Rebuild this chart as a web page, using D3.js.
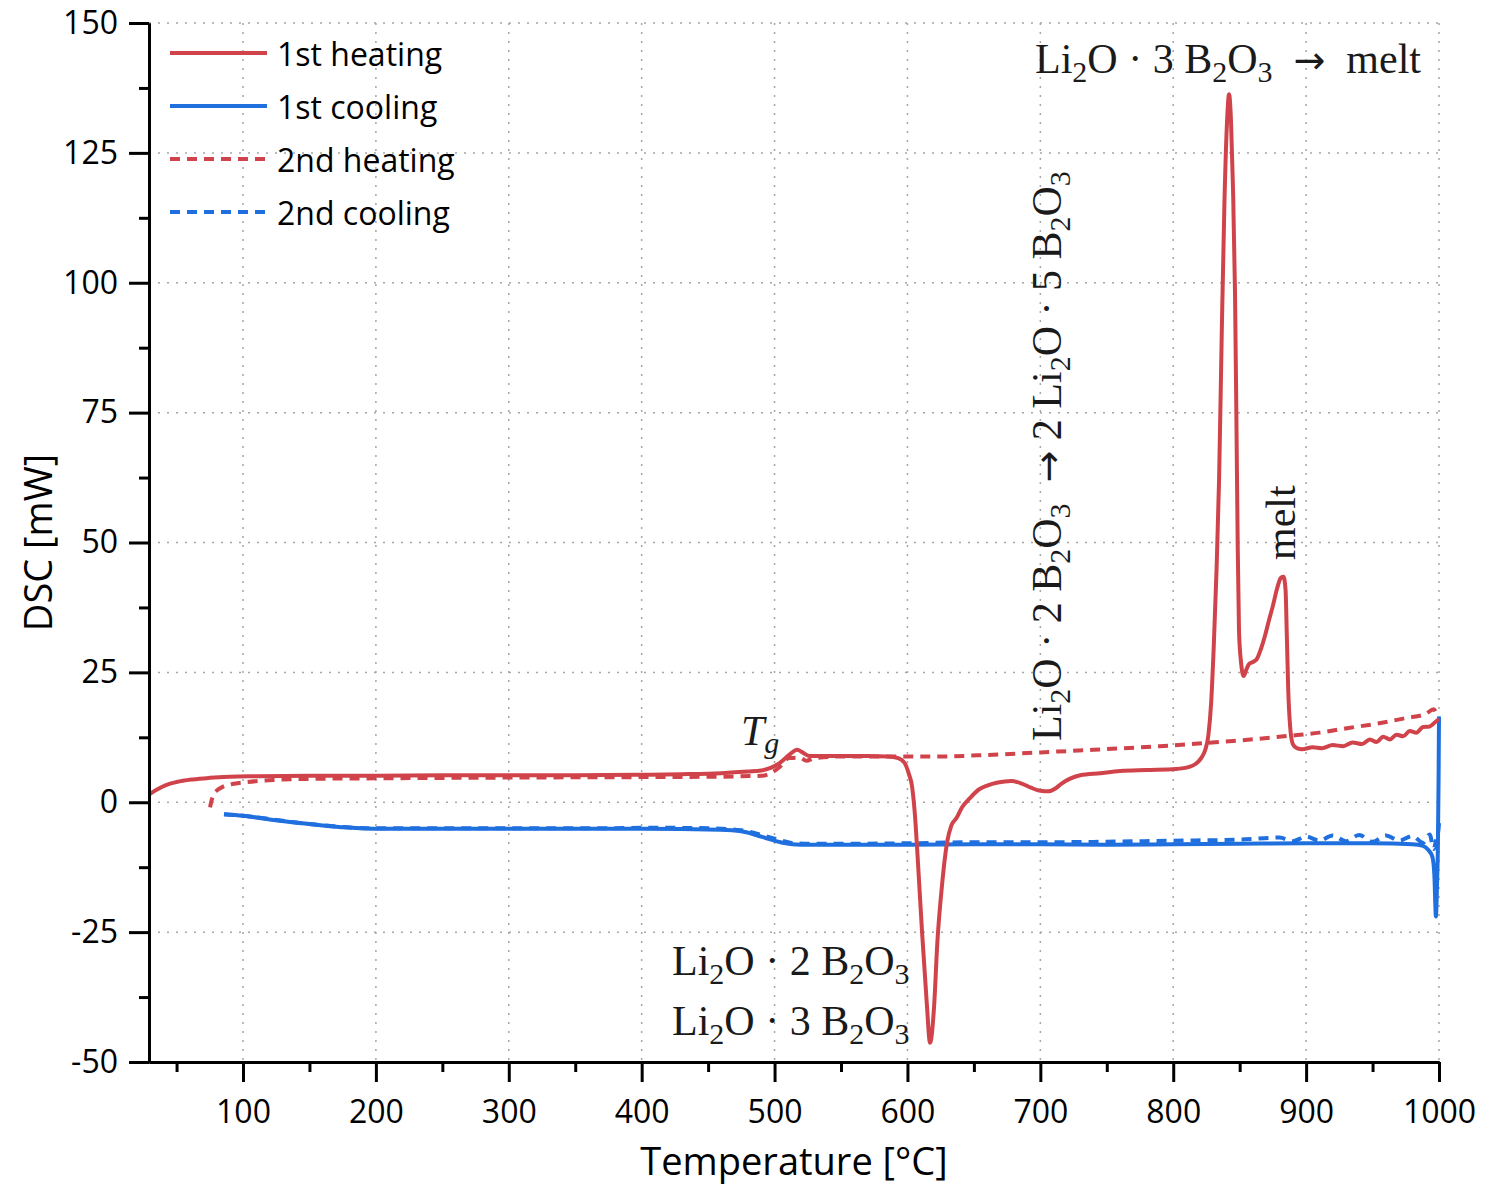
<!DOCTYPE html>
<html>
<head>
<meta charset="utf-8">
<script src="https://cdn.jsdelivr.net/npm/d3@7"></script>
<style>
  body { margin: 0; background: #fff; }
</style>
</head>
<body>
<script>
// series: [temperature °C, DSC mW]
const heating1 = [
  [29.3, 1.5], [35, 2.4], [42, 3.3], [50, 3.9], [62, 4.4], [75, 4.7], [90, 4.9], [110, 5.0],
  [150, 5.1], [200, 5.1], [250, 5.2], [300, 5.2], [350, 5.2], [400, 5.3], [430, 5.4], [460, 5.6],
  [480, 5.9], [490, 6.1], [497, 6.6], [504, 7.6], [511, 9.1], [517, 10.1], [521, 9.6], [526, 8.9],
  [535, 8.9], [550, 8.9], [570, 8.9], [585, 8.8], [593, 8.5], [598, 7.5], [601, 5.5], [603.5, 3],
  [605.5, -2], [608, -12], [611, -25], [614.5, -38.5], [617, -46.3], [620, -39.5], [622.5, -27],
  [626, -16], [630, -7.5], [633, -4.5], [637, -3], [641, -1], [647, 0.8], [654, 2.5], [660, 3.2],
  [668, 3.8], [678, 4.1], [686, 3.6], [693, 2.8], [700, 2.2], [706, 2.1], [711, 2.6], [716, 3.6],
  [722, 4.5], [730, 5.2], [745, 5.6], [760, 6.0], [780, 6.2], [802, 6.4], [812, 6.8], [817, 7.4],
  [821, 8.5], [824, 10], [826.5, 13], [828.5, 19], [830.5, 30], [832.5, 44], [834.5, 62],
  [836.5, 90], [838.5, 115], [840.5, 131], [842, 136.3], [843.5, 131], [845, 118], [846.5, 98],
  [847.5, 75], [848.5, 50], [849.5, 33], [851, 27], [853, 24.3], [855, 25.5], [857, 26.6],
  [860, 27], [863, 27.6], [866, 29.5], [869, 32], [872, 35], [875, 37.8], [878, 41], [881, 43.2],
  [883, 43.4], [884.5, 41], [885.5, 32], [886.5, 22], [888, 14.5], [890, 11.2], [893, 10.4],
  [897, 10.2], [905, 10.6], [912, 10.4], [920, 11.0], [928, 10.8], [935, 11.5], [942, 11.2],
  [948, 12.1], [953, 11.6], [958, 12.6], [963, 12.1], [968, 13.0], [973, 12.7], [978, 13.7],
  [983, 13.4], [988, 14.5], [993, 14.6], [997, 15.4], [1000, 16]
];

const heating2 = [
  [75.2, -1], [76.5, 0.5], [78, 1.5], [81, 2.4], [85, 3], [92, 3.5], [100, 3.8], [123, 4.3],
  [150, 4.5], [200, 4.6], [260, 4.7], [350, 4.8], [450, 4.9], [490, 5.1], [497, 5.6], [503, 6.6],
  [511, 8.5], [519, 8.6], [524, 8.0], [530, 8.5], [550, 8.8], [580, 8.8], [620, 8.8], [660, 9.1],
  [700, 9.6], [740, 10.1], [790, 10.8], [845, 11.8], [888, 12.8], [910, 13.4], [932, 14.3],
  [955, 15.2], [975, 16.2], [990, 17.0], [996, 17.9], [998, 17.2], [1000, 16.5]
];

const cooling1 = [
  [85.7, -2.3], [100, -2.6], [123, -3.4], [150, -4.2], [174, -4.8], [197, -5.1], [250, -5.1],
  [300, -5.1], [400, -5.1], [459, -5.3], [475, -5.6], [486, -6.3], [496, -7.1], [506, -7.8],
  [520, -8.2], [560, -8.2], [600, -8.2], [650, -8.1], [700, -8.1], [750, -8.2], [800, -8.1],
  [850, -8.0], [900, -7.9], [950, -7.9], [980, -8.1], [988, -8.4], [992, -9.2], [995, -10.5],
  [996.5, -14], [997.7, -22], [998.5, -16], [999.2, -8], [999.7, 5], [1000, 16.5]
];

const cooling2 = [
  [85.7, -2.3], [100, -2.6], [150, -4.2], [197, -5.0], [300, -5.0], [380, -5.0], [400, -4.9],
  [450, -5.0], [475, -5.4], [486, -6.0], [500, -7.0], [515, -7.9], [530, -8.0], [600, -7.9],
  [650, -7.7], [700, -7.7], [750, -7.6], [800, -7.4], [850, -7.2], [880, -6.8], [890, -7.5],
  [900, -6.6], [910, -7.4], [920, -6.4], [930, -7.5], [940, -6.3], [950, -7.6], [960, -6.4],
  [970, -7.4], [980, -6.5], [988, -7.8], [993, -6.2], [996, -9], [998, -7], [999.5, -5.5],
  [1000, -4]
];

const seriesNames = ["1st heating", "1st cooling", "2nd heating", "2nd cooling"];
const xTicks = [100, 200, 300, 400, 500, 600, 700, 800, 900, 1000];
const xMinorTicks = [50, 150, 250, 350, 450, 550, 650, 750, 850, 950];
const yTicks = [-50, -25, 0, 25, 50, 75, 100, 125, 150];
const yMinorTicks = [-37.5, -12.5, 12.5, 37.5, 62.5, 87.5, 112.5, 137.5];

const drawViz = () => {

  const width = 1509;
  const height = 1185;
  const margin = {top: 23, bottom: 123, left: 149, right: 70};

  const red = '#d1434b';
  const blue = '#1f6fde';
  const sans = '"Open Sans", "Noto Sans", sans-serif';
  const serif = '"Liberation Serif", "DejaVu Serif", serif';

  const xScale = d3
    .scaleLinear()
    .domain([29.26, 1000])
    .range([margin.left, width - margin.right]);

  const yScale = d3
    .scaleLinear()
    .domain([-50, 150])
    .range([height - margin.bottom, margin.top]);

  const svg = d3
    .select('body')
    .append('svg')
    .attr('width', width)
    .attr('height', height);

  // dotted grid
  const grid = svg.append('g').attr('class', 'grid')
    .attr('stroke', '#a6a6a6')
    .attr('stroke-width', 1.5)
    .attr('stroke-dasharray', '2,7');

  grid.selectAll('line.v')
    .data(xTicks)
    .enter()
    .append('line')
    .attr('x1', (d) => xScale(d))
    .attr('x2', (d) => xScale(d))
    .attr('y1', yScale(150))
    .attr('y2', yScale(-50));

  grid.selectAll('line.h')
    .data(yTicks.filter((d) => d > -50))
    .enter()
    .append('line')
    .attr('x1', xScale(29.26))
    .attr('x2', xScale(1000))
    .attr('y1', (d) => yScale(d))
    .attr('y2', (d) => yScale(d));

  // data lines
  const line = d3.line()
    .x((d) => xScale(d[0]))
    .y((d) => yScale(d[1]))
    .curve(d3.curveMonotoneX);

  const series = [
    {data: cooling2, color: blue, dash: '10,7'},
    {data: heating2, color: red, dash: '10,7'},
    {data: cooling1, color: blue, dash: null},
    {data: heating1, color: red, dash: null}
  ];

  svg.append('g')
    .selectAll('path')
    .data(series)
    .enter()
    .append('path')
    .attr('d', (d) => line(d.data))
    .attr('fill', 'none')
    .attr('stroke', (d) => d.color)
    .attr('stroke-width', 4)
    .attr('stroke-linejoin', 'round')
    .attr('stroke-dasharray', (d) => d.dash);

  // axes
  const fmt = (d) => String(d);

  svg.append('g')
    .attr('transform', `translate(0, ${yScale(-50)})`)
    .call(d3.axisBottom(xScale).tickValues(xTicks).tickFormat(fmt)
      .tickSize(20).tickPadding(18).tickSizeOuter(0));

  svg.append('g')
    .attr('transform', `translate(0, ${yScale(-50)})`)
    .call(d3.axisBottom(xScale).tickValues(xMinorTicks).tickSize(10).tickFormat('').tickSizeOuter(0));

  svg.append('g')
    .attr('transform', `translate(${xScale(29.26)}, 0)`)
    .call(d3.axisLeft(yScale).tickValues(yTicks).tickFormat(fmt)
      .tickSize(20).tickPadding(11).tickSizeOuter(0));

  svg.append('g')
    .attr('transform', `translate(${xScale(29.26)}, 0)`)
    .call(d3.axisLeft(yScale).tickValues(yMinorTicks).tickSize(10).tickFormat('').tickSizeOuter(0));

  svg.selectAll('.domain, .tick line')
    .attr('stroke', '#000')
    .attr('stroke-width', 3);

  svg.selectAll('.tick text')
    .attr('font-family', sans)
    .attr('font-size', 32)
    .attr('fill', '#000');

  // axis titles
  svg.append('text')
    .attr('x', (margin.left + width - margin.right) / 2)
    .attr('y', 1175)
    .attr('text-anchor', 'middle')
    .attr('font-family', sans)
    .attr('font-size', 38)
    .text('Temperature [°C]');

  svg.append('text')
    .attr('transform', `translate(52, ${(yScale(150) + yScale(-50)) / 2}) rotate(-90)`)
    .attr('text-anchor', 'middle')
    .attr('font-family', sans)
    .attr('font-size', 38)
    .text('DSC [mW]');

  // legend
  const legend = svg.append('g')
    .selectAll('g')
    .data(seriesNames)
    .enter()
    .append('g')
    .attr('transform', (d, i) => `translate(170, ${53 + i * 53})`);

  legend.append('line')
    .attr('x1', 0)
    .attr('x2', 97)
    .attr('stroke', (d, i) => (i % 2 === 0 ? red : blue))
    .attr('stroke-width', 4)
    .attr('stroke-dasharray', (d, i) => (i < 2 ? null : '10,7'));

  legend.append('text')
    .attr('x', 107)
    .attr('y', 13)
    .attr('font-family', sans)
    .attr('font-size', 32)
    .text((d) => d);

  // annotations; {s} = subscript, {a} = arrow
  const addLabel = (parts, x, y, rotate) => {
    const t = svg.append('text')
      .attr('transform', `translate(${x}, ${y})` + (rotate ? ' rotate(-90)' : ''))
      .attr('font-family', serif)
      .attr('font-size', 42)
      .attr('fill', '#1a1a1a')
      .style('white-space', 'pre');
    let shift = 0;
    parts.forEach((p) => {
      const isSub = typeof p === 'object' && p.s !== undefined;
      const isArrow = typeof p === 'object' && p.a !== undefined;
      const span = t.append('tspan')
        .attr('dy', (isSub ? 9 : 0) - shift)
        .attr('font-size', isSub ? 30 : 42)
        .text(isSub ? p.s : isArrow ? p.a : p);
      if (isArrow) span.attr('font-family', '"DejaVu Sans", sans-serif').attr('font-size', 38);
      shift = isSub ? 9 : 0;
    });
    return t;
  };

  const s = (v) => ({s: v});
  const arrow = {a: '→'};
  const sp = '\u00a0';

  addLabel(['Li', s('2'), 'O · 3 B', s('2'), 'O', s('3'), sp + sp, arrow, sp + sp + 'melt'], 1035, 73, false);
  addLabel(['Li', s('2'), 'O · 2 B', s('2'), 'O', s('3'), sp + sp, arrow, sp + '2 Li', s('2'), 'O · 5 B', s('2'), 'O', s('3')], 1061, 741, true);
  addLabel(['melt'], 1295, 560, true);
  addLabel(['Li', s('2'), 'O · 2 B', s('2'), 'O', s('3')], 672, 975, false);
  addLabel(['Li', s('2'), 'O · 3 B', s('2'), 'O', s('3')], 672, 1035, false);

  // glass transition
  const tg = svg.append('text')
    .attr('x', 741)
    .attr('y', 745)
    .attr('font-family', serif)
    .attr('font-style', 'italic')
    .attr('font-size', 42)
    .attr('fill', '#1a1a1a');
  tg.append('tspan').text('T');
  tg.append('tspan').attr('dy', 8).attr('font-size', 30).text('g');
}

drawViz();
</script>
</body>
</html>
